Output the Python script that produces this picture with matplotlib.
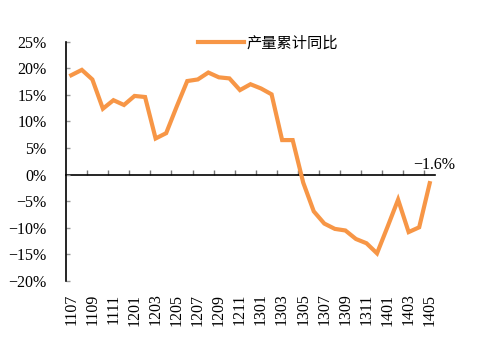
import numpy as np
import matplotlib
matplotlib.use("Agg")
import matplotlib.pyplot as plt

# categorias (AAMM) e valores (%)
months = ["1107", "1108", "1109", "1110", "1111", "1112",
          "1201", "1202", "1203", "1204", "1205", "1206",
          "1207", "1208", "1209", "1210", "1211", "1212",
          "1301", "1302", "1303", "1304", "1305", "1306",
          "1307", "1308", "1309", "1310", "1311", "1312",
          "1401", "1402", "1403", "1404", "1405"]
values = [18.7, 19.7, 17.9, 12.4, 14.0, 13.1,
          14.8, 14.6, 6.8, 7.8, 12.8, 17.6,
          17.9, 19.2, 18.3, 18.1, 15.9, 17.0,
          16.2, 15.1, 6.5, 6.5, -1.5, -6.9,
          -9.2, -10.2, -10.5, -12.1, -12.9, -14.8,
          -9.8, -4.7, -10.8, -9.9, -1.6]
series_name = "产量累计同比"
last_label = "−1.6%"
yticks = [-20, -15, -10, -5, 0, 5, 10, 15, 20, 25]

orange = "#F79646"
serif = "Liberation Serif"

fig = plt.figure(figsize=(4.8, 3.63), dpi=100)
ax = fig.add_axes([66 / 480, 1 - 281 / 363, (435 - 66) / 480, (281 - 41.7) / 363])

x = np.arange(len(months))
ax.plot(x, values, color=orange, lw=3, solid_joinstyle="miter", label=series_name, zorder=3)

ax.set_xlim(-0.5, len(months) - 0.5)
ax.set_ylim(-20, 25)

# eixo y
ax.set_yticks(yticks)
ax.set_yticklabels([f"{v}%".replace("-", "−") for v in yticks],
                   fontfamily=serif, fontsize=11.5)
ax.tick_params(axis="y", direction="in", length=3, width=1, color="#999999", pad=14)

# rótulos x em baixo, sem marcas
ax.set_xticks(x[::2])
ax.set_xticklabels(months[::2], rotation=90, fontfamily=serif, fontsize=11.5)
ax.tick_params(axis="x", length=0, pad=9)

for s in ["top", "right", "bottom"]:
    ax.spines[s].set_visible(False)
ax.spines["left"].set_linewidth(1.2)

# linha do zero com marcas a cada 2 meses
sec = ax.secondary_xaxis(0, transform=ax.transData)
sec.set_xticks(np.arange(1.5, len(months) - 0.5, 2))
sec.set_xticklabels([])
sec.tick_params(direction="in", length=3.5, width=1, color="#777777")
sec.spines["bottom"].set_linewidth(1.2)
sec.spines["bottom"].set_color("black")

ax.annotate(last_label, xy=(x[-1], values[-1]), xytext=(3, 13),
            textcoords="offset points", ha="center", va="center",
            fontfamily=serif, fontsize=11.5)

leg = ax.legend(loc="center left", bbox_to_anchor=(198 / 480, 1 - 43 / 363),
                bbox_transform=fig.transFigure, frameon=False, borderpad=0,
                borderaxespad=0, handlelength=3.0, handletextpad=0.15,
                prop={"family": ["Noto Sans CJK SC", "DejaVu Sans"], "size": 11})

plt.savefig("out.png", dpi=100)
plt.close()
